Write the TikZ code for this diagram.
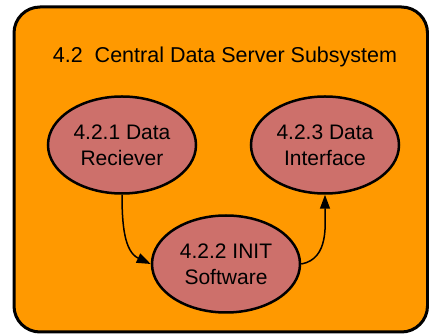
\documentclass[tikz,border=0pt]{standalone}
\usepackage{fontspec}
\setmainfont{Liberation Sans}
\usetikzlibrary{arrows.meta}
\usetikzlibrary{shapes.geometric}
\definecolor{subsysorange}{RGB}{255,153,0}
\definecolor{procred}{RGB}{205,112,107}
\tikzset{>={Triangle[length=14pt,width=10pt]}}
\tikzset{
	% process bubble
	proc/.style={ellipse,draw=black,fill=procred,line width=2.5pt,
		minimum width=148pt,minimum height=97pt,inner sep=0pt,
		align=center,font=\fontsize{21}{26}\selectfont},
	% data flow
	flow/.style={->,line width=1.5pt},
}
\begin{document}
\begin{tikzpicture}[x=1pt,y=-1pt]
\useasboundingbox (0,0) rectangle (429,336);
% the subsystem box
\draw[fill=subsysorange,line width=3pt,rounded corners=26pt] (14,7) rectangle (427.5,332);
\node (title) at (225,57) {\fontsize{21.5}{26}\selectfont 4.2\ \ Central Data Server Subsystem};
% the processes
\node[proc] (recv) at (122,145) {4.2.1 Data\\Reciever};
\node[proc] (iface) at (325,145) {4.2.3 Data\\Interface};
\node[proc] (init) at (226,264) {4.2.2 INIT\\Software};
% the flows
\draw[flow] (recv.south) to[out=-90,in=155] (init.west);
\draw[flow] (init.east) to[out=10,in=-90] (iface.south);
\end{tikzpicture}
\end{document}
